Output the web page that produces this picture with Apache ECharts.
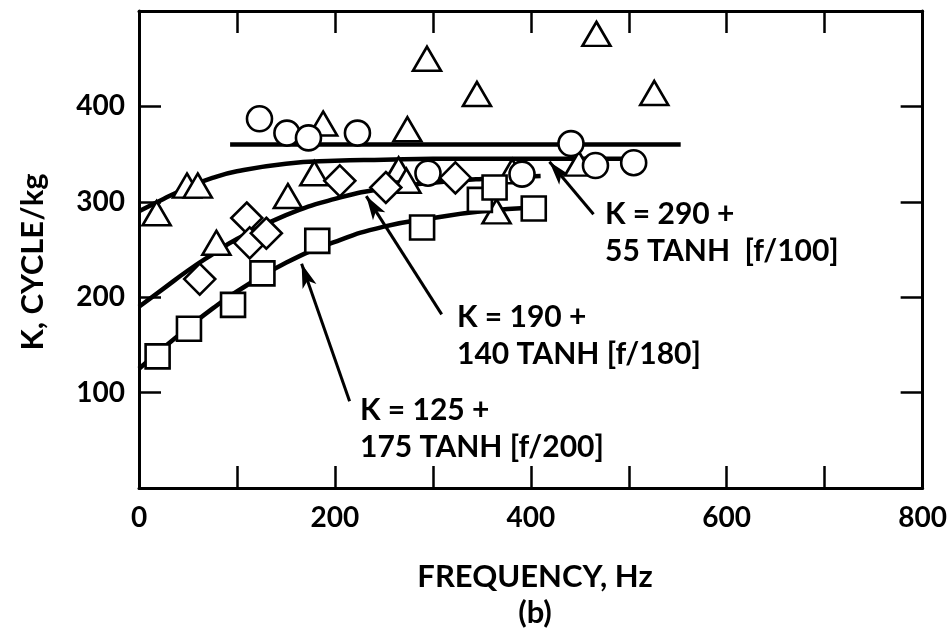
<!DOCTYPE html>
<html><head><meta charset="utf-8">
<script src="https://cdn.jsdelivr.net/npm/echarts@6/dist/echarts.min.js"></script>
<style>html,body{margin:0;padding:0;background:#fff}#c{width:950px;height:640px}</style>
</head><body><div id="c"></div>
<script>
// Frequency (Hz), K (cycle/kg)
const triangles = [[18,288],[49,317],[60,317],[79,257],[152,306],[179,330],[188,382],[265,334],[273,322],[274,376],[294,450],[345,413],[365,290],[381,332],[449,340],[467,476],[526,414]];
const circles = [[123,387],[151,372],[173,367],[223,372],[295,330],[391,329],[441,361],[466,338],[505,341]];
const diamonds = [[62,219],[110,283],[113,257],[130,267],[205,322],[252,315],[323,325]];
const squares = [[19,138],[51,167],[96,192],[126,225],[182,259],[289,273],[348,302],[363,315],[403,293]];

// fitted curves
const curveUpper = [[0,290],[25,303],[50,315],[75,325],[100,332],[150,340],[200,343],[250,344],[300,345],[400,345],[505,345]];
const curveMiddle = [[0,190],[25,209],[50,228],[75,245],[100,261],[150,286],[200,303],[250,314],[300,320],[350,324],[410,327]];
const curveLower = [[0,125],[25,147],[50,168],[75,188],[100,206],[150,236],[200,258],[250,274],[300,283],[350,290],[403,294]];
const flatLine = [[93,360],[553,360]];

// annotation arrows: [tail, head]
const arrows = [
  [[464,287],[419,342]],
  [[309,182],[232,306]],
  [[215,91],[166,235]]
];
const xTicks = [0,200,400,600,800];
const yTicks = [100,200,300,400];

const FONT = 'Lato';
const TXT = 'bold 30px Lato';
const NAME = 'bold 31px Lato';
const chart = echarts.init(document.getElementById('c'));

const axisCommon = {
  type:'value', splitLine:{show:false},
  axisLine:{show:true, onZero:false, lineStyle:{color:'#000', width:3}},
  axisTick:{show:true, inside:true, length:22, lineStyle:{color:'#000', width:2.5}}
};
const markerStyle = {color:'#fff', borderColor:'#000', borderWidth:2.6, opacity:1};
const lineStyle = {color:'#000', width:4.5};

function scatter(name, data, symbol, size){
  return {type:'scatter', name, data, symbol, symbolSize:size, itemStyle:markerStyle, z:5, silent:true};
}
function curve(data){
  return {type:'line', data, smooth:true, symbol:'none', lineStyle, z:3, silent:true};
}

chart.setOption({
  animation:false,
  backgroundColor:'#fff',
  grid:{left:139, right:25, top:11, bottom:152},
  xAxis:[
    Object.assign({}, axisCommon, {min:0, max:800, interval:100, position:'bottom',
      axisLabel:{show:true, margin:16, color:'#000', fontFamily:FONT, fontWeight:'bold', fontSize:28,
        formatter:v => xTicks.includes(v) ? String(v) : ''}}),
    Object.assign({}, axisCommon, {min:0, max:800, interval:100, position:'top', axisLabel:{show:false}})
  ],
  yAxis:[
    Object.assign({}, axisCommon, {min:0, max:500, interval:100, position:'left',
      axisLabel:{show:true, margin:14, color:'#000', fontFamily:FONT, fontWeight:'bold', fontSize:28,
        formatter:v => yTicks.includes(v) ? String(v) : ''}}),
    Object.assign({}, axisCommon, {min:0, max:500, interval:100, position:'right', axisLabel:{show:false}})
  ],
  series:[
    curve(curveUpper), curve(curveMiddle), curve(curveLower), curve(flatLine),
    {type:'line', data:[], symbol:'none', silent:true, z:4,
      markLine:{silent:true, symbol:['none','arrow'], symbolSize:[11,24], animation:false,
        lineStyle:{color:'#000', width:3, type:'solid', opacity:1}, label:{show:false},
        data: arrows.map(a => [{coord:a[0]},{coord:a[1]}])}},
    scatter('triangle', triangles, 'triangle', [28,24]),
    scatter('circle', circles, 'circle', 25),
    scatter('diamond', diamonds, 'diamond', [31,31]),
    scatter('square', squares, 'rect', 24)
  ],
  graphic:[
    {type:'text', left:605, top:199, style:{text:'K = 290 +', font:TXT, fill:'#000'}},
    {type:'text', left:605, top:236, style:{text:'55 TANH  [f/100]', font:TXT, fill:'#000'}},
    {type:'text', left:457, top:302, style:{text:'K = 190 +', font:TXT, fill:'#000'}},
    {type:'text', left:457, top:339, style:{text:'140 TANH [f/180]', font:TXT, fill:'#000'}},
    {type:'text', left:360, top:395, style:{text:'K = 125 +', font:TXT, fill:'#000'}},
    {type:'text', left:360, top:432, style:{text:'175 TANH [f/200]', font:TXT, fill:'#000'}},
    {type:'text', x:535, y:577, style:{text:'FREQUENCY, Hz', font:NAME, fill:'#000', align:'center', verticalAlign:'middle'}},
    {type:'text', x:535, y:613, style:{text:'(b)', font:NAME, fill:'#000', align:'center', verticalAlign:'middle'}},
    {type:'text', x:33, y:262, rotation:Math.PI/2, style:{text:'K, CYCLE/kg', font:NAME, fill:'#000', align:'center', verticalAlign:'middle'}}
  ]
});
</script></body></html>
